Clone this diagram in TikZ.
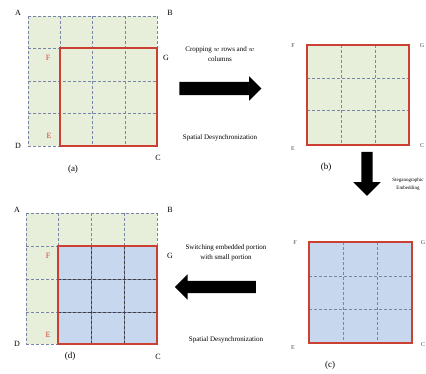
\documentclass[tikz,border=0pt]{standalone}
\usepackage{fontspec}
\setmainfont{Liberation Serif}
\usetikzlibrary{shapes.arrows}
\definecolor{cellgreen}{RGB}{231,239,218}
\definecolor{cellblue}{RGB}{198,215,238}
\definecolor{edgered}{RGB}{204,64,52}
\definecolor{gridgray}{RGB}{120,132,168}
\begin{document}
\begin{tikzpicture}[x=1pt,y=-1pt,
                corner/.style={font=\fontsize{8}{8}\selectfont,inner sep=0pt},
                smallcorner/.style={corner,font=\fontsize{6}{6}\selectfont,text=black!70},
                redcorner/.style={corner,text=edgered},
                caption/.style={font=\fontsize{9}{9}\selectfont,inner sep=0pt},
                note/.style={font=\fontsize{7}{10}\selectfont,inner sep=0pt,align=center},
                gridl/.style={draw=gridgray,densely dashed,line width=0.4pt},
                darkl/.style={draw=black!75,densely dashed,line width=0.4pt},
                cut/.style={draw=edgered,line width=1.2pt},
                blockarrow/.style={single arrow,fill=black,draw=none,inner xsep=0pt,
                        single arrow tip angle=90}
            ]
            \useasboundingbox (0,0) rectangle (426,374);
            \clip (0,0) rectangle (426,374);

            % (a) original image
            \fill[cellgreen] (28,16) rectangle (157,146);
            \foreach \x in {28,60,92,125,157} \draw[gridl] (\x,16) -- (\x,146);
            \foreach \y in {16,48,81,113,146} \draw[gridl] (28,\y) -- (157,\y);
            \draw[cut] (60,48) rectangle (157,146);
            \node[corner] (Aa) at (18,13) {A};
            \node[corner] (Ba) at (170,13) {B};
            \node[redcorner] (Fa) at (48,58) {F};
            \node[corner] (Ga) at (166,58) {G};
            \node[redcorner] (Ea) at (49,136) {E};
            \node[corner] (Da) at (18,146) {D};
            \node[corner] (Ca) at (158,158) {C};
            \node[caption] (capa) at (73,169) {(a)};

            % crop arrow
            \node[blockarrow,minimum height=82pt,inner ysep=6.5pt,
                single arrow head extend=5.5pt] (crop) at (217,88.5) {};
            \node[note] (croptext) at (220,54) {Cropping $w$ rows and $w$\\columns};
            \node[note] (desynca) at (220,138) {Spatial Desynchronization};

            % (b) cropped part
            \fill[cellgreen] (307,45) rectangle (409,145);
            \foreach \x in {341,375} \draw[gridl] (\x,45) -- (\x,145);
            \foreach \y in {78,110} \draw[gridl] (307,\y) -- (409,\y);
            \draw[cut] (307,45) rectangle (409,145);
            \node[smallcorner] (Fb) at (293,46) {F};
            \node[smallcorner] (Gb) at (422,46) {G};
            \node[smallcorner] (Eb) at (293,149) {E};
            \node[smallcorner] (Cb) at (422,146) {C};
            \node[caption] (capb) at (326,167) {(b)};

            % embedding arrow
            \node[blockarrow,minimum height=44pt,inner sep=5.5pt,
                single arrow head extend=8pt,shape border rotate=270] (embed) at (367,171) {};
            \node[note,font=\fontsize{5}{8}\selectfont] (embedtext) at (408,184) {Steganographic\\Embedding};

            % (c) embedded part
            \fill[cellblue] (309,242) rectangle (412,343);
            \foreach \x in {343,377} \draw[gridl] (\x,242) -- (\x,343);
            \foreach \y in {276,309} \draw[gridl] (309,\y) -- (412,\y);
            \draw[cut] (309,242) rectangle (412,343);
            \node[smallcorner] (Fc) at (295,243) {F};
            \node[smallcorner] (Gc) at (423,243) {G};
            \node[smallcorner] (Ec) at (293,348) {E};
            \node[smallcorner] (Cc) at (423,345) {C};
            \node[caption] (capc) at (330,365) {(c)};

            % switching arrow
            \node[blockarrow,minimum height=81pt,inner ysep=6pt,
                single arrow head extend=6.5pt,shape border rotate=180] (switch) at (218.5,287) {};
            \node[note] (switchtext) at (226,253) {Switching embedded portion\\with small portion};
            \node[note] (desyncd) at (226,340) {Spatial Desynchronization};

            % (d) result
            \fill[cellgreen] (26,213) rectangle (157,344);
            \fill[cellblue] (58,246) rectangle (157,344);
            \foreach \x in {26,58,91,124,157} \draw[gridl] (\x,213) -- (\x,344);
            \foreach \y in {213,246,279,312,344} \draw[gridl] (26,\y) -- (157,\y);
            \foreach \x in {91,124} \draw[darkl] (\x,246) -- (\x,344);
            \foreach \y in {279,312} \draw[darkl] (58,\y) -- (157,\y);
            \draw[cut] (58,246) rectangle (157,344);
            \node[corner] (Ad) at (17,210) {A};
            \node[corner] (Bd) at (170,210) {B};
            \node[redcorner] (Fd) at (48,256) {F};
            \node[corner] (Gd) at (170,256) {G};
            \node[redcorner] (Ed) at (48,335) {E};
            \node[corner] (Dd) at (17,344) {D};
            \node[corner] (Cd) at (158,357) {C};
            \node[caption] (capd) at (70,356) {(d)};

        \end{tikzpicture}
\end{document}
